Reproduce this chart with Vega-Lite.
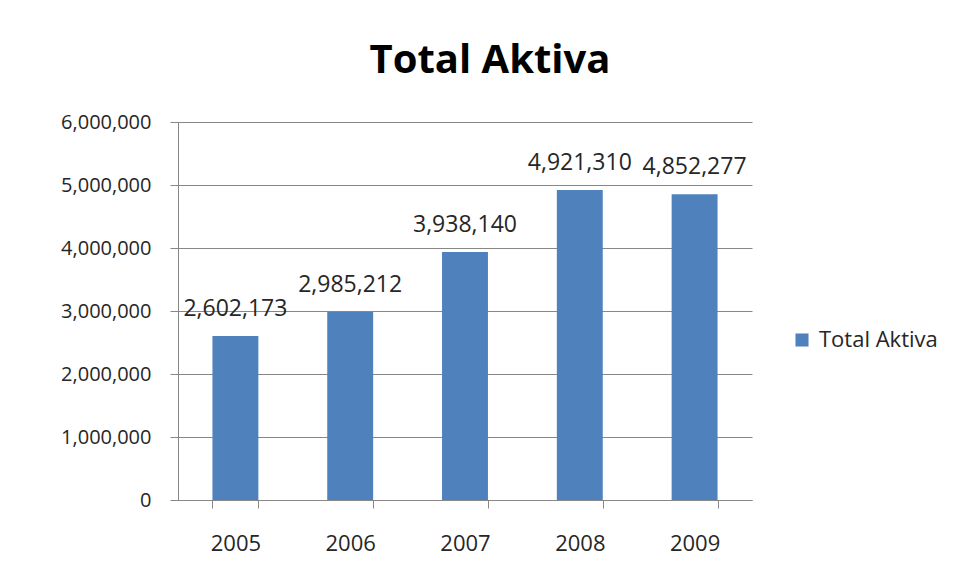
{
  "$schema": "https://vega.github.io/schema/vega-lite/v6.json",
  "width": 574,
  "height": 378,
  "autosize": {"type": "none"},
  "padding": {"left": 178, "top": 122, "right": 203, "bottom": 79},
  "background": "white",
  "title": {
    "text": "Total Aktiva",
    "font": "Open Sans",
    "fontSize": 40,
    "fontWeight": "bold",
    "color": "#000000",
    "anchor": "middle",
    "dx": 25,
    "offset": 31
  },
  "data": {
    "values": [
      {"year": "2005", "value": 2602173, "series": "Total Aktiva"},
      {"year": "2006", "value": 2985212, "series": "Total Aktiva"},
      {"year": "2007", "value": 3938140, "series": "Total Aktiva"},
      {"year": "2008", "value": 4921310, "series": "Total Aktiva"},
      {"year": "2009", "value": 4852277, "series": "Total Aktiva"}
    ]
  },
  "encoding": {
    "x": {
      "field": "year",
      "type": "nominal",
      "scale": {"paddingInner": 0.6, "paddingOuter": 0.3},
      "axis": {
        "title": null,
        "labelAngle": 0,
        "labelFont": "Open Sans",
        "labelFontSize": 22,
        "labelColor": "#262626",
        "labelPadding": 25,
        "domainColor": "#878787",
        "tickColor": "#878787",
        "tickBand": "extent",
        "tickSize": 8,
        "grid": false
      }
    },
    "y": {
      "field": "value",
      "type": "quantitative",
      "scale": {"domain": [0, 6000000]},
      "axis": {
        "title": null,
        "values": [0, 1000000, 2000000, 3000000, 4000000, 5000000, 6000000],
        "format": ",d",
        "labelFont": "Open Sans",
        "labelFontSize": 20,
        "labelColor": "#262626",
        "labelPadding": 19,
        "domainColor": "#878787",
        "tickColor": "#878787",
        "tickSize": 8,
        "gridColor": "#878787",
        "gridWidth": 1
      }
    }
  },
  "layer": [
    {
      "mark": {"type": "bar", "color": "#4F81BD"},
      "encoding": {
        "color": {
          "field": "series",
          "type": "nominal",
          "scale": {"range": ["#4F81BD"]},
          "legend": {
            "title": null,
            "orient": "none",
            "legendX": 613,
            "legendY": 207,
            "symbolType": "square",
            "symbolSize": 170,
            "symbolStrokeWidth": 0,
            "labelFont": "Open Sans",
            "labelFontSize": 22,
            "labelColor": "#262626",
            "labelOffset": 6
          }
        }
      }
    },
    {
      "mark": {
        "type": "text",
        "font": "Open Sans",
        "fontSize": 23,
        "color": "#262626",
        "baseline": "middle",
        "dy": -27
      },
      "encoding": {
        "text": {"field": "value", "type": "quantitative", "format": ",d"}
      }
    }
  ],
  "config": {
    "view": {"stroke": null}
  }
}
